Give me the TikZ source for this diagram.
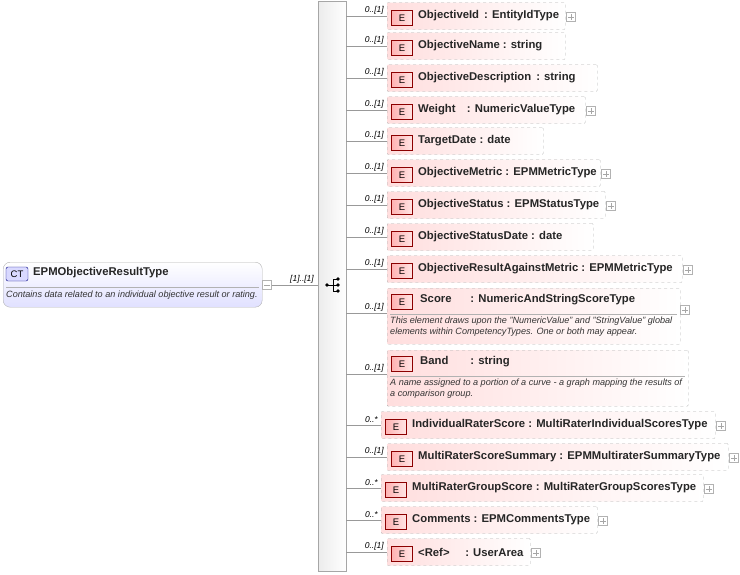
\documentclass[tikz,border=0pt]{standalone}
\usepackage{fontspec}
\setmainfont{Liberation Sans}
\begin{document}
\begin{tikzpicture}[x=1pt,y=-1pt,
  ebox/.style={draw=gray!60,dashed,left color=red!13,right color=white,rounded corners=1pt},
  badge/.style={draw=red!55!black,left color=red!30,right color=red!10,minimum width=21pt,minimum height=15pt,inner sep=0pt,font=\fontsize{9.5}{10}\selectfont},
  lbl/.style={font=\bfseries\fontsize{11.3}{12}\selectfont,anchor=west,text=black!85,inner sep=0pt},
  mult/.style={font=\itshape\fontsize{8.5}{9}\selectfont,anchor=south east,inner sep=1pt},
  conn/.style={draw=gray!80,line width=0.6pt},
  expd/.style={draw=gray!60,fill=white,minimum size=9pt,inner sep=0pt},
  desc/.style={font=\itshape\fontsize{9.1}{10.5}\selectfont,anchor=north west,align=left,text=black!80,inner sep=1pt}]
\useasboundingbox (0,0) rectangle (740,574);
% sequence bar
\node[draw=gray!70,left color=gray!15,right color=white,minimum width=28pt,minimum height=570pt,inner sep=0pt,anchor=north west] (bar) at (318,1) {};
% CT box
\node[draw=gray!60,rounded corners=7pt,top color=white,bottom color=blue!12,minimum width=259pt,minimum height=45pt,anchor=north west,inner sep=0pt] (ct) at (3,262) {};
\node[draw=blue!50!black,fill=blue!15,rounded corners=2pt,font=\fontsize{9.5}{10}\selectfont,inner sep=1.5pt,minimum width=22pt,minimum height=14pt] (ctb) at (17,274) {CT};
\node[lbl] (ctn) at (33,273) {EPMObjectiveResultType};
\draw[gray!60] (6,287) -- (259,287);
\node[desc] (ctd) at (5,290) {Contains data related to an individual objective result or rating.};
\node[expd] (cte) at (267,285) {};
\draw[gray!70,line width=0.4pt] (264,285) -- (270,285);
\draw[conn] (cte.east) -- (bar.west |- cte.east);
\node[mult,anchor=south] (ctm) at (302,284) {[1]..[1]};
% sequence icon
\node[inner sep=0pt,minimum size=12pt] (seq) at (333,285) {};
\fill (327,285) circle (1.8pt);
\draw[line width=0.8pt] (327,285) -- (333,285) (333,279) -- (333,291) (333,279) -- (338,279) (333,285) -- (338,285) (333,291) -- (338,291);
\fill (338,279) circle (1.8pt) (338,285) circle (1.8pt) (338,291) circle (1.8pt);
% element macro: name, y, left, right, label, mult, expander
\newcommand\elt[7]{%
  \node[ebox,minimum width=#4-#3,minimum height=27pt,inner sep=0pt,anchor=west] (#1) at (#3,#2) {};
  \node[badge] (#1b) at (#3+15,#2+2) {E};
  \node[lbl] (#1t) at (#3+31,#2) {#5};
  \draw[conn] (bar.east |- #1.west) -- (#1.west);
  \node[mult] (#1m) at (#3-2,#2-1) {#6};
  \ifnum#7=1 \node[expd] (#1e) at (#4+6,#2+1) {};
  \draw[gray!70,line width=0.4pt] (#4+3,#2+1) -- (#4+9,#2+1) (#4+6,#2-2) -- (#4+6,#2+4);\fi}
\elt{e1}{16}{387}{565}{ObjectiveId\ \,: EntityIdType}{0..[1]}{1}
\elt{e2}{46}{387}{565}{ObjectiveName : string}{0..[1]}{0}
\elt{e3}{78}{387}{597}{ObjectiveDescription\ \,: string}{0..[1]}{0}
\elt{e4}{110}{387}{585}{Weight\ \ \ \,: NumericValueType}{0..[1]}{1}
\elt{e5}{141}{387}{543}{TargetDate : date}{0..[1]}{0}
\elt{e6}{173}{387}{600}{ObjectiveMetric : EPMMetricType}{0..[1]}{1}
\elt{e7}{205}{387}{605}{ObjectiveStatus : EPMStatusType}{0..[1]}{1}
\elt{e8}{237}{387}{593}{ObjectiveStatusDate : date}{0..[1]}{0}
\elt{e9}{269}{387}{682}{ObjectiveResultAgainstMetric : EPMMetricType}{0..[1]}{1}
\elt{e12}{425}{381}{715}{IndividualRaterScore : MultiRaterIndividualScoresType}{0..*}{1}
\elt{e13}{457}{387}{728}{MultiRaterScoreSummary : EPMMultiraterSummaryType}{0..[1]}{1}
\elt{e14}{488}{381}{703}{MultiRaterGroupScore : MultiRaterGroupScoresType}{0..*}{1}
\elt{e15}{520}{381}{597}{Comments : EPMCommentsType}{0..*}{1}
\elt{e16}{552}{387}{530}{<Ref>\ \ \ \ \ : UserArea}{0..[1]}{1}
% Score
\node[ebox,minimum width=293pt,minimum height=56pt,inner sep=0pt,anchor=north west] (e10) at (387,288) {};
\node[badge] (e10b) at (402,302) {E};
\node[lbl] (e10t) at (420,300) {Score\ \ \ \ \ \ : NumericAndStringScoreType};
\draw[gray!60] (390,314) -- (677,314);
\node[desc] (e10d) at (389,316) {This element draws upon the "NumericValue" and "StringValue" global\\elements within CompetencyTypes. One or both may appear.};
\draw[conn] (bar.east |- 0,313) -- (e10.west |- 0,313);
\node[mult] (e10m) at (385,312) {0..[1]};
\node[expd] (e10e) at (685,310) {};
\draw[gray!70,line width=0.4pt] (682,310) -- (688,310) (685,307) -- (685,313);
% Band
\node[ebox,minimum width=301pt,minimum height=56pt,inner sep=0pt,anchor=north west] (e11) at (387,350) {};
\node[badge] (e11b) at (402,364) {E};
\node[lbl] (e11t) at (420,362) {Band\ \ \ \ \ \ \ : string};
\draw[gray!60] (390,376) -- (685,376);
\node[desc] (e11d) at (389,378) {A name assigned to a portion of a curve - a graph mapping the results of\\a comparison group.};
\draw[conn] (bar.east |- 0,374) -- (e11.west |- 0,374);
\node[mult] (e11m) at (385,373) {0..[1]};
\end{tikzpicture}
\end{document}
